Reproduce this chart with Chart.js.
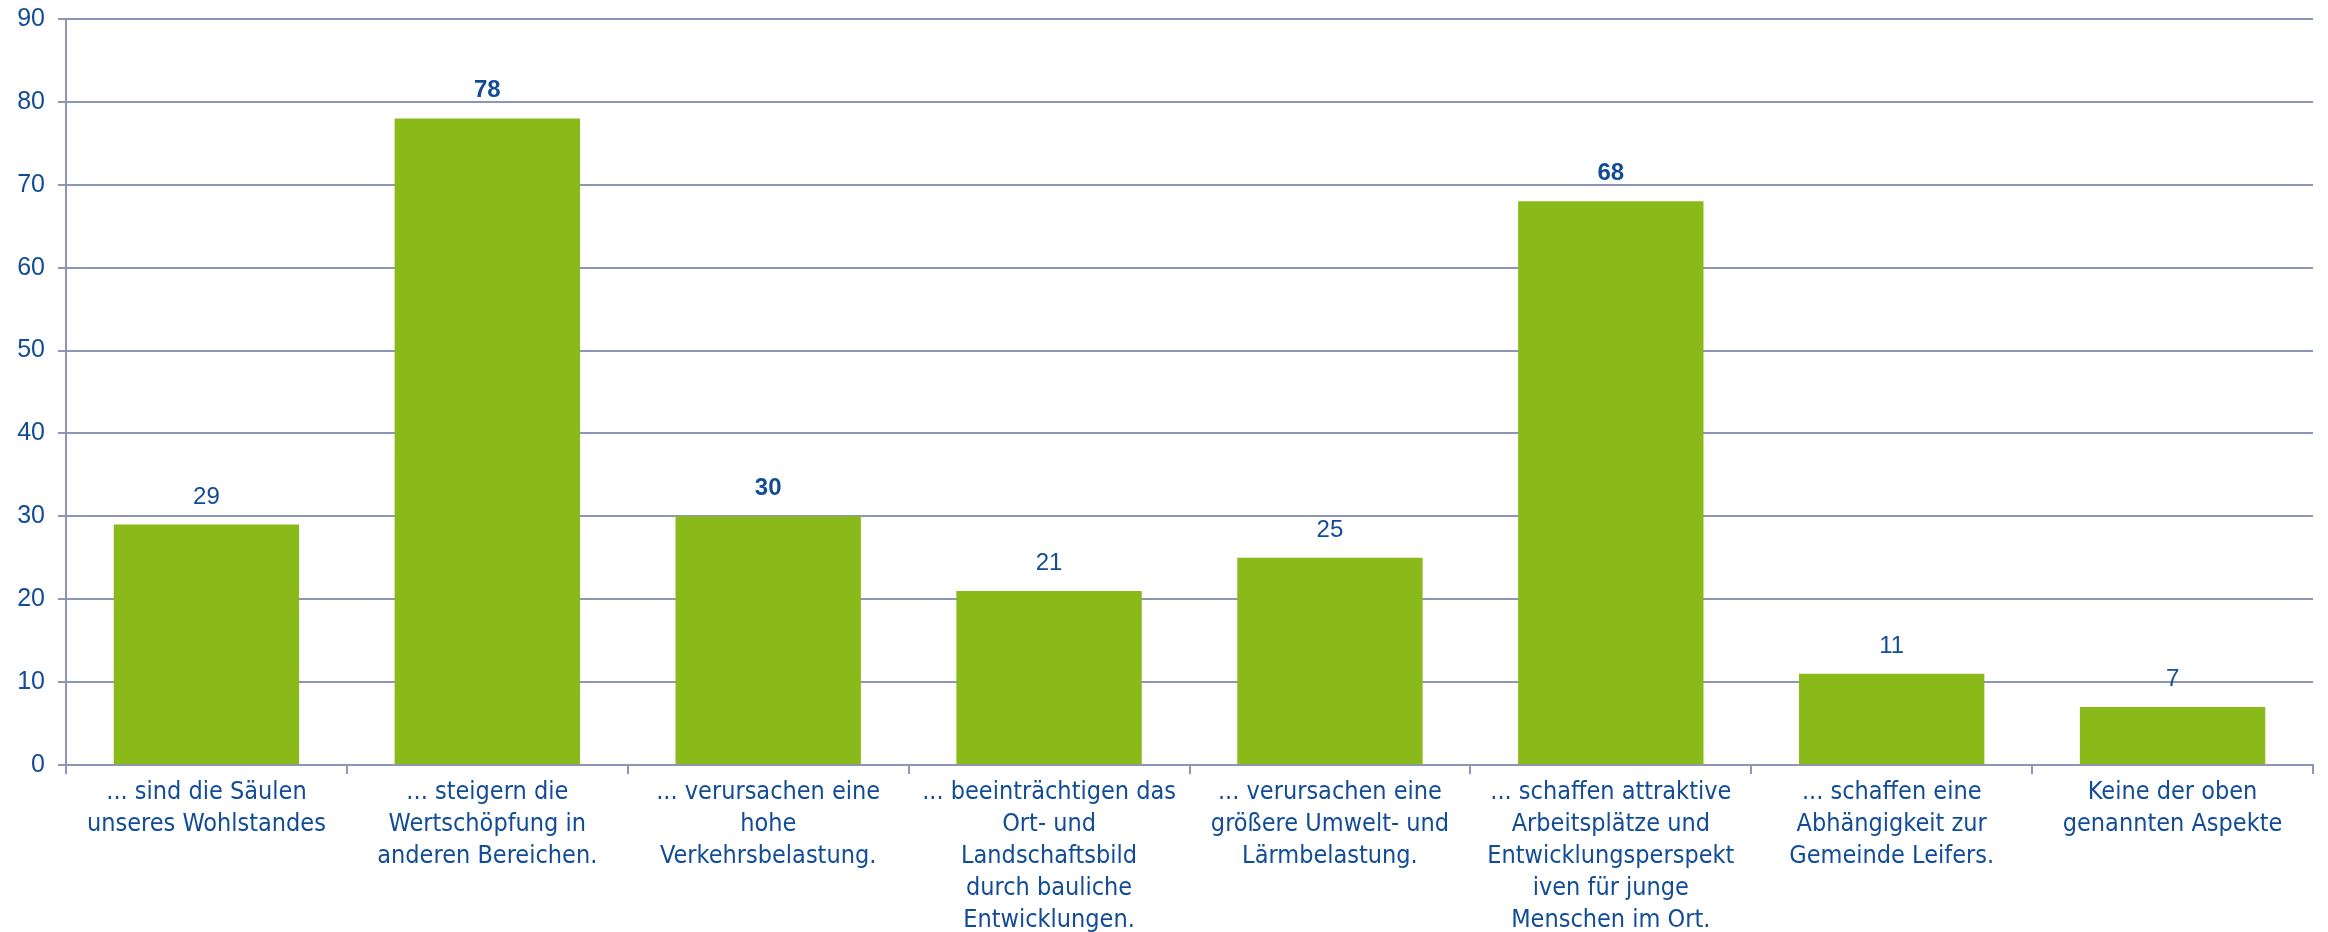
<!DOCTYPE html>
<html>
<head>
<meta charset="utf-8">
<script src="https://cdn.jsdelivr.net/npm/chart.js@4/dist/chart.umd.min.js"></script>
<style>
  html, body { margin: 0; padding: 0; background: #ffffff; }
  #wrap { width: 2328px; height: 932px; }
</style>
</head>
<body>
<div id="wrap"><canvas id="bar-chart" width="2328" height="932"></canvas></div>
<script>
// data
const categories = [
  ["... sind die Säulen", "unseres Wohlstandes"],
  ["... steigern die", "Wertschöpfung in", "anderen Bereichen."],
  ["... verursachen eine", "hohe", "Verkehrsbelastung."],
  ["... beeinträchtigen das", "Ort- und", "Landschaftsbild", "durch bauliche", "Entwicklungen."],
  ["... verursachen eine", "größere Umwelt- und", "Lärmbelastung."],
  ["... schaffen attraktive", "Arbeitsplätze und", "Entwicklungsperspekt", "iven für junge", "Menschen im Ort."],
  ["... schaffen eine", "Abhängigkeit zur", "Gemeinde Leifers."],
  ["Keine der oben", "genannten Aspekte"]
];
const values = [29, 78, 30, 21, 25, 68, 11, 7];
const yTicks = [0, 10, 20, 30, 40, 50, 60, 70, 80, 90];

const textBlue = "#124C97";
const gridColor = "#8E96B5";
const barGreen = "#8AB91A";
const boldLabels = [1, 2, 5];

const valueLabels = {
  id: "valueLabels",
  afterDatasetsDraw(chart) {
    const ctx = chart.ctx;
    const meta = chart.getDatasetMeta(0);
    ctx.save();
    ctx.fillStyle = textBlue;
    ctx.textAlign = "center";
    ctx.textBaseline = "alphabetic";
    meta.data.forEach((bar, i) => {
      ctx.font = (boldLabels.includes(i) ? "bold " : "") + "24px 'Liberation Sans', Arial, sans-serif";
      ctx.fillText(values[i], bar.x, bar.y - 21);
    });
    ctx.restore();
  }
};

new Chart(document.getElementById("bar-chart"), {
  type: 'bar',
  data: {
    labels: categories,
    datasets: [{
      data: values,
      backgroundColor: barGreen,
      borderWidth: 0,
      categoryPercentage: 1.0,
      barPercentage: 0.66
    }]
  },
  options: {
    responsive: false,
    animation: false,
    layout: { padding: { left: 0, right: 15, top: 19, bottom: 0 } },
    plugins: {
      legend: { display: false },
      tooltip: { enabled: false }
    },
    scales: {
      x: {
        afterFit(scale) { scale.height = 167; },
        grid: { drawOnChartArea: false, drawTicks: true, tickLength: 9, color: gridColor, lineWidth: 2 },
        border: { color: gridColor, width: 2 },
        ticks: {
          color: textBlue,
          padding: 2,
          maxRotation: 0,
          autoSkip: false,
          font: { family: "'Liberation Sans Narrow', 'DejaVu Sans Condensed', sans-serif", size: 25, lineHeight: "32px" }
        }
      },
      y: {
        min: 0,
        max: yTicks[yTicks.length - 1],
        afterFit(scale) {
          scale.width = 66;
          scale.paddingTop = 0;
          scale.paddingBottom = 0;
        },
        afterBuildTicks(axis) { axis.ticks = yTicks.map(v => ({ value: v })); },
        grid: { color: gridColor, lineWidth: 2, tickLength: 8 },
        border: { color: gridColor, width: 2 },
        ticks: {
          color: textBlue,
          padding: 13,
          font: { family: "'Liberation Sans', Arial, sans-serif", size: 25 }
        }
      }
    }
  },
  plugins: [valueLabels]
});
</script>
</body>
</html>
